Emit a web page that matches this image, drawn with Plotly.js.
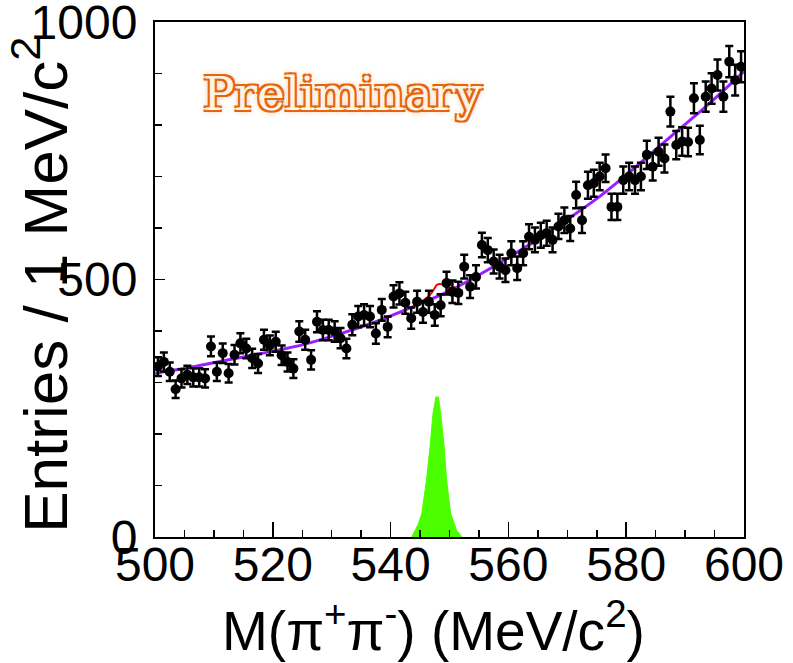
<!DOCTYPE html>
<html>
<head>
<meta charset="utf-8">
<script src="https://cdn.plot.ly/plotly-3.0.1.min.js"></script>
<style>
html,body{margin:0;padding:0;background:#fff;}
#plot{width:793px;height:663px;}
</style>
</head>
<body>
<div id="plot"></div>
<script>
// Bin contents, 1 MeV bins from 500 to 600 MeV/c^2
const entries = [
  331, 340, 321, 287, 308, 315, 310, 310, 308, 370,
  321, 357, 318, 354, 376, 366, 347, 337, 383, 372,
  379, 353, 340, 327, 399, 383, 344, 418, 402, 402,
  399, 386, 366, 412, 428, 431, 428, 395, 441, 408,
  467, 473, 455, 425, 457, 437, 457, 431, 450, 493,
  476, 474, 525, 486, 505, 567, 557, 535, 525, 518,
  551, 522, 551, 583, 577, 586, 590, 577, 603, 615,
  599, 664, 615, 683, 687, 700, 716, 641, 641, 693,
  700, 693, 700, 742, 719, 748, 735, 826, 761, 768,
  767, 852, 771, 855, 871, 897, 855, 923, 887, 913
];
const binLow = 500;
const binWidth = 1;
const binCenters = entries.map((_, i) => binLow + binWidth * (i + 0.5));

// Background fit (purple)
const bkgMass = [500, 506.25, 512.5, 518.75, 525, 531.25, 537.5, 543.75, 550, 556.25, 562.5, 568.75, 575, 581.25, 587.5, 593.75, 600];
const bkgVal  = [318, 330, 344, 358, 373, 394, 418, 447, 478, 517, 560, 607, 657, 715, 777, 838, 904];

// Total fit near the signal (red)
const totMass = [543.5, 544.5, 545.5, 546.5, 547.3, 547.9, 548.6, 549.4, 550.2, 551];
const totVal  = [445, 452, 459, 468, 480, 490, 491, 486, 483, 485];

// Signal MC shape (green)
const sigMass = [543.6, 544.1, 544.7, 545.3, 546.1, 546.7, 547.2, 547.7, 548.1, 548.5, 549.1, 549.5, 550.2, 551.2, 552.1];
const sigVal  = [0, 13, 25, 46, 111, 175, 240, 272, 272, 240, 175, 111, 46, 13, 0];

const traces = [
  {x: sigMass, y: sigVal, type: 'scatter', mode: 'lines', fill: 'toself',
   fillcolor: '#4cff00', line: {color: '#4cff00', width: 1}, hoverinfo: 'skip'},
  {x: bkgMass, y: bkgVal, type: 'scatter', mode: 'lines',
   line: {color: '#9a1fff', width: 3, shape: 'spline', smoothing: 1}},
  {x: totMass, y: totVal, type: 'scatter', mode: 'lines',
   line: {color: '#ff0000', width: 2, shape: 'spline'}},
  {x: binCenters, y: entries, type: 'scatter', mode: 'markers',
   marker: {color: '#000', size: 10, symbol: 'circle'},
   error_y: {type: 'sqrt', color: '#000', thickness: 2.5, width: 4}}
];

const axisFont = {family: 'Liberation Sans, Arial, sans-serif', size: 48, color: '#000'};
const orange = '#e2650f';

const layout = {
  width: 793, height: 663,
  margin: {l: 155, r: 49, t: 22, b: 126, pad: 0},
  paper_bgcolor: '#fff', plot_bgcolor: '#fff',
  showlegend: false,
  xaxis: {
    range: [500, 600], tick0: 500, dtick: 20, tickmode: 'linear',
    ticks: 'inside', ticklen: 15, tickwidth: 1.5, tickcolor: '#000',
    minor: {dtick: 5, ticks: 'inside', ticklen: 7, tickwidth: 1.5, tickcolor: '#000'},
    showline: true, linecolor: '#000', linewidth: 2, mirror: true,
    showgrid: false, zeroline: false, ticklabeloverflow: 'allow',
    tickfont: axisFont, ticklabelstandoff: -16
  },
  yaxis: {
    range: [0, 1000], tick0: 0, dtick: 500, tickmode: 'linear',
    ticks: 'inside', ticklen: 10, tickwidth: 1.5, tickcolor: '#000',
    minor: {dtick: 100, ticks: 'inside', ticklen: 7, tickwidth: 1.5, tickcolor: '#000'},
    showline: true, linecolor: '#000', linewidth: 2, mirror: true,
    showgrid: false, zeroline: false, ticklabeloverflow: 'allow',
    tickfont: axisFont, ticklabelstandoff: 6
  },
  annotations: [
    {text: 'M(π<sup>+</sup>π<sup>-</sup>) (MeV/c<sup>2</sup>)', xref: 'paper', yref: 'paper',
     x: 0.472, y: -0.175, xanchor: 'center', yanchor: 'middle', showarrow: false,
     font: {family: 'Liberation Sans, Arial, sans-serif', size: 55, color: '#000'}},
    {text: 'Entries / 1 MeV/c<sup>2</sup>', xref: 'paper', yref: 'paper',
     x: -0.195, y: 0.49, xanchor: 'center', yanchor: 'middle', textangle: -90, showarrow: false,
     font: {family: 'Liberation Sans, Arial, sans-serif', size: 62, color: '#000'}},
    {text: 'Preliminary', xref: 'paper', yref: 'paper',
     x: 0.3175, y: 0.862, xanchor: 'center', yanchor: 'middle', showarrow: false,
     font: {family: 'DejaVu Serif, Liberation Serif, serif', size: 47, color: '#fff3e6',
            shadow: '2px 2px 0 ' + orange + ', -2px -2px 0 ' + orange + ', 2px -2px 0 ' + orange + ', -2px 2px 0 ' + orange + ', 0 0 7px #f59a40'}}
  ]
};

Plotly.newPlot('plot', traces, layout, {displayModeBar: false, staticPlot: true});
</script>
</body>
</html>
